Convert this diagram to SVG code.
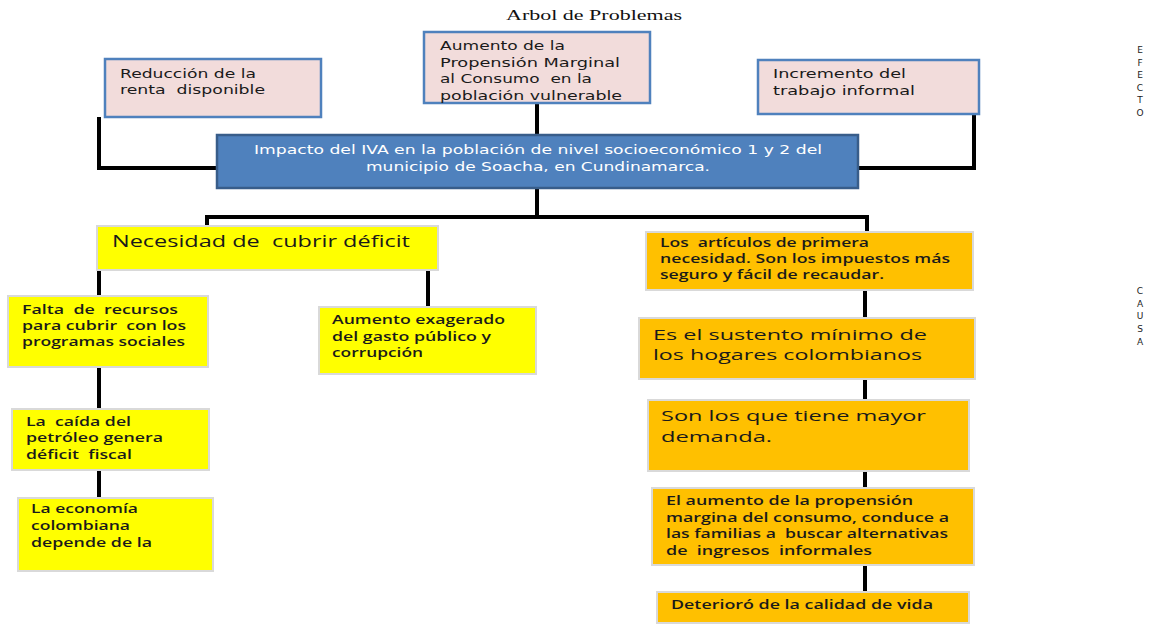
<svg xmlns="http://www.w3.org/2000/svg" width="1156" height="626" viewBox="0 0 1156 626">
<style>
text{white-space:pre}
.pk{fill:#F2DCDB;stroke:#4F81BD;stroke-width:2.5}
.bl{fill:#4F81BD;stroke:#385D8A;stroke-width:2.5}
.ye{fill:#FFFF00;stroke:#D9D9D9;stroke-width:2}
.or{fill:#FFC000;stroke:#D9D9D9;stroke-width:2}
.t{font-family:"DejaVu Sans",Verdana,sans-serif;font-size:12px;fill:#1a1a1a}
.tw{font-family:"DejaVu Sans",Verdana,sans-serif;font-size:12px;fill:#ffffff}
.c{font-family:"Open Sans","DejaVu Sans",sans-serif;font-size:12px;fill:#1a1a1a;font-weight:600}
.big{font-family:"Open Sans","DejaVu Sans",sans-serif;font-size:15px;fill:#1a1a1a}
.side{font-family:"DejaVu Sans",sans-serif;font-size:9px;fill:#222222}
.title{font-family:"Liberation Serif","Times New Roman",serif;font-size:15px;fill:#111111}
#connectors path{fill:none;stroke:#000000;stroke-width:4}
</style>
<rect width="1156" height="626" fill="#ffffff"/>
<text class="title" x="506" y="20" textLength="176" lengthAdjust="spacingAndGlyphs">Arbol de Problemas</text>
<g id="connectors">
<path d="M99,117 V168 H217"/>
<path d="M974,115 V168 H858"/>
<path d="M537,103 V135"/>
<path d="M537,188 V217"/>
<path d="M207,226 V217 H867 V232"/>
<path d="M99,270 V296"/>
<path d="M428,270 V307"/>
<path d="M99,367 V409"/>
<path d="M99,470 V498"/>
<path d="M865,290 V318"/>
<path d="M865,379 V400"/>
<path d="M865,471 V488"/>
<path d="M865,565 V592"/>
</g>
<g id="n-reduccion">
<rect class="pk" x="105" y="59" width="216" height="58"/>
<text class="t" x="120" y="78" textLength="136" lengthAdjust="spacingAndGlyphs">Reducción de la</text>
<text class="t" x="120" y="94" textLength="145" lengthAdjust="spacingAndGlyphs">renta  disponible</text>
</g>
<g id="n-aumento">
<rect class="pk" x="424" y="32" width="226" height="71"/>
<text class="t" x="440" y="50" textLength="125" lengthAdjust="spacingAndGlyphs">Aumento de la</text>
<text class="t" x="440" y="67" textLength="180" lengthAdjust="spacingAndGlyphs">Propensión Marginal</text>
<text class="t" x="440" y="83" textLength="152" lengthAdjust="spacingAndGlyphs">al Consumo  en la</text>
<text class="t" x="440" y="100" textLength="182" lengthAdjust="spacingAndGlyphs">población vulnerable</text>
</g>
<g id="n-incremento">
<rect class="pk" x="758" y="60" width="221" height="54"/>
<text class="t" x="773" y="78" textLength="133" lengthAdjust="spacingAndGlyphs">Incremento del</text>
<text class="t" x="773" y="95" textLength="142" lengthAdjust="spacingAndGlyphs">trabajo informal</text>
</g>
<g id="n-impacto">
<rect class="bl" x="217" y="135" width="641" height="53"/>
<text class="tw" x="254" y="154" textLength="568" lengthAdjust="spacingAndGlyphs">Impacto del IVA en la población de nivel socioeconómico 1 y 2 del</text>
<text class="tw" x="366" y="171" textLength="344" lengthAdjust="spacingAndGlyphs">municipio de Soacha, en Cundinamarca.</text>
</g>
<g id="n-necesidad">
<rect class="ye" x="97" y="226" width="341" height="44"/>
<text class="big" x="112" y="247" textLength="298" lengthAdjust="spacingAndGlyphs" style="font-size:17px">Necesidad de  cubrir déficit</text>
</g>
<g id="n-falta">
<rect class="ye" x="8" y="296" width="200" height="71"/>
<text class="c" x="22" y="314" textLength="156" lengthAdjust="spacingAndGlyphs">Falta  de  recursos</text>
<text class="c" x="22" y="330" textLength="164" lengthAdjust="spacingAndGlyphs">para cubrir  con los</text>
<text class="c" x="22" y="346" textLength="163" lengthAdjust="spacingAndGlyphs">programas sociales</text>
</g>
<g id="n-gasto">
<rect class="ye" x="319" y="307" width="217" height="67"/>
<text class="c" x="332" y="324" textLength="173" lengthAdjust="spacingAndGlyphs">Aumento exagerado</text>
<text class="c" x="332" y="341" textLength="159" lengthAdjust="spacingAndGlyphs">del gasto público y</text>
<text class="c" x="332" y="357" textLength="91" lengthAdjust="spacingAndGlyphs">corrupción</text>
</g>
<g id="n-petroleo">
<rect class="ye" x="12" y="409" width="197" height="61"/>
<text class="c" x="26" y="426" textLength="105" lengthAdjust="spacingAndGlyphs">La  caída del</text>
<text class="c" x="26" y="442" textLength="137" lengthAdjust="spacingAndGlyphs">petróleo genera</text>
<text class="c" x="26" y="459" textLength="106" lengthAdjust="spacingAndGlyphs">déficit  fiscal</text>
</g>
<g id="n-economia">
<rect class="ye" x="18" y="498" width="195" height="73"/>
<text class="c" x="31" y="513" textLength="107" lengthAdjust="spacingAndGlyphs">La economía</text>
<text class="c" x="31" y="530" textLength="99" lengthAdjust="spacingAndGlyphs">colombiana</text>
<text class="c" x="31" y="547" textLength="121" lengthAdjust="spacingAndGlyphs">depende de la</text>
</g>
<g id="n-articulos">
<rect class="or" x="646" y="232" width="327" height="58"/>
<text class="c" x="660" y="247" textLength="209" lengthAdjust="spacingAndGlyphs">Los  artículos de primera</text>
<text class="c" x="660" y="263" textLength="290" lengthAdjust="spacingAndGlyphs">necesidad. Son los impuestos más</text>
<text class="c" x="660" y="279" textLength="224" lengthAdjust="spacingAndGlyphs">seguro y fácil de recaudar.</text>
</g>
<g id="n-sustento">
<rect class="or" x="639" y="318" width="336" height="61"/>
<text class="big" x="653" y="340" textLength="274" lengthAdjust="spacingAndGlyphs">Es el sustento mínimo de</text>
<text class="big" x="653" y="360" textLength="269" lengthAdjust="spacingAndGlyphs">los hogares colombianos</text>
</g>
<g id="n-demanda">
<rect class="or" x="648" y="400" width="321" height="71"/>
<text class="big" x="661" y="421" textLength="265" lengthAdjust="spacingAndGlyphs">Son los que tiene mayor</text>
<text class="big" x="661" y="442" textLength="111" lengthAdjust="spacingAndGlyphs">demanda.</text>
</g>
<g id="n-propension">
<rect class="or" x="652" y="488" width="322" height="77"/>
<text class="c" x="666" y="505" textLength="247" lengthAdjust="spacingAndGlyphs">El aumento de la propensión</text>
<text class="c" x="666" y="522" textLength="283" lengthAdjust="spacingAndGlyphs">margina del consumo, conduce a</text>
<text class="c" x="666" y="538" textLength="282" lengthAdjust="spacingAndGlyphs">las familias a  buscar alternativas</text>
<text class="c" x="666" y="555" textLength="206" lengthAdjust="spacingAndGlyphs">de  ingresos  informales</text>
</g>
<g id="n-deterioro">
<rect class="or" x="657" y="592" width="312" height="31"/>
<text class="c" x="671" y="609" textLength="262" lengthAdjust="spacingAndGlyphs">Deterioró de la calidad de vida</text>
</g>
<g id="efecto" text-anchor="middle">
<text class="side" x="1140" y="53">E</text>
<text class="side" x="1140" y="66">F</text>
<text class="side" x="1140" y="78">E</text>
<text class="side" x="1140" y="91">C</text>
<text class="side" x="1140" y="103">T</text>
<text class="side" x="1140" y="116">O</text>
</g>
<g id="causa" text-anchor="middle">
<text class="side" x="1140" y="294">C</text>
<text class="side" x="1140" y="307">A</text>
<text class="side" x="1140" y="319">U</text>
<text class="side" x="1140" y="332">S</text>
<text class="side" x="1140" y="345">A</text>
</g>
</svg>
